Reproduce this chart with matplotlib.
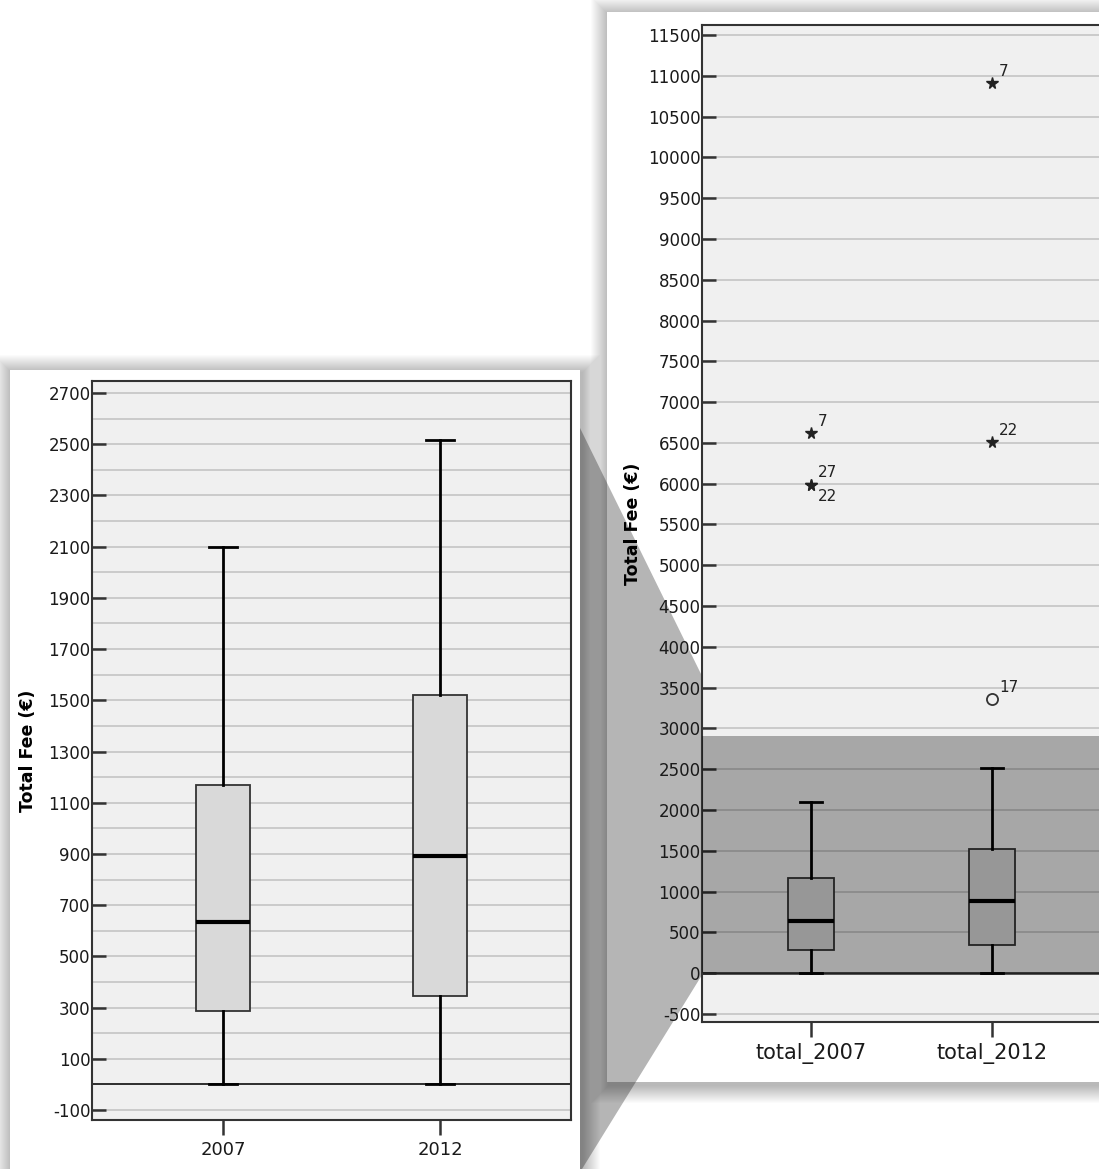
import numpy as np
import matplotlib
matplotlib.use('Agg')
import matplotlib.pyplot as plt
from matplotlib.patches import Rectangle, Polygon

plt.rcParams['axes.unicode_minus'] = False

W, H = 1099, 1169

# data
cats_left = ['2007', '2012']
cats_right = ['total_2007', 'total_2012']
whis_lo = [0, 0]
q1 = [285, 347]
med = [636, 891]
q3 = [1169, 1520]
whis_hi = [2100, 2515]

# extreme outliers (stars) and mild outliers (circles)
star_x = [1, 1, 1, 2, 2]
star_y = [6620, 5990, 5990, 10910, 6515]
star_lab = ['7', '27', '22', '7', '22']
star_side = ['above', 'above', 'below', 'above', 'above']
circ_x = [2]
circ_y = [3365]
circ_lab = ['17']


def fx(x):
    return x / W


def fy(y):
    return 1 - y / H


def rect(x0, y0, x1, y1, **kw):
    return Rectangle((fx(x0), fy(y1)), fx(x1) - fx(x0), fy(y0) - fy(y1),
                     transform=fig.transFigure, **kw)


def shadow(x0, y0, x1, y1, n=18):
    # soft drop shadow, a bit heavier towards the bottom right
    for k in range(n, 0, -1):
        fig.add_artist(rect(x0 - k + 2, y0 - k + 3, x1 + k + 2, y1 + k + 3,
                            facecolor='black', edgecolor='none',
                            alpha=0.014, zorder=-3))


fig = plt.figure(figsize=(W / 100, H / 100), dpi=100)
fig.patch.set_facecolor('white')

# cards
shadow(10, 370, 580, 1190)
fig.add_artist(rect(10, 370, 580, 1190, facecolor='white', edgecolor='none', zorder=-2.5))
shadow(607, 12, 1120, 1082)
fig.add_artist(rect(607, 12, 1120, 1082, facecolor='white', edgecolor='none', zorder=-2))

# connecting wedge
wedge = Polygon([(fx(580), fy(428)), (fx(702), fy(676)), (fx(702), fy(975)),
                 (fx(582), fy(1169)), (fx(580), fy(1169))],
                closed=True, transform=fig.transFigure, facecolor='black',
                edgecolor='none', alpha=0.29, zorder=-1)
fig.add_artist(wedge)


def stats():
    return [dict(whislo=whis_lo[i], q1=q1[i], med=med[i], q3=q3[i],
                 whishi=whis_hi[i], fliers=[]) for i in range(2)]


def style(ax, xlab_size):
    ax.set_facecolor('#f0f0f0')
    ax.bxp(stats(), positions=[1, 2], widths=0.25, capwidths=0.125,
           patch_artist=True, showfliers=False,
           boxprops=dict(facecolor='#d9d9d9', edgecolor='#333333', linewidth=1.3),
           medianprops=dict(color='black', linewidth=3),
           whiskerprops=dict(color='black', linewidth=2),
           capprops=dict(color='black', linewidth=2))
    ax.grid(True, which='both', axis='y', color='#c8c8c8', linewidth=1.3, zorder=0)
    ax.set_axisbelow(True)
    for s in ax.spines.values():
        s.set_color('#333333')
        s.set_linewidth(1.5)
    ax.tick_params(axis='y', which='major', direction='in', length=10, width=1.8,
                   color='#333333', labelsize=12, pad=1, labelcolor='#1a1a1a')
    ax.tick_params(axis='y', which='minor', length=0)
    ax.tick_params(axis='x', direction='out', length=11, width=1.8,
                   color='#333333', labelsize=xlab_size, pad=4, labelcolor='#1a1a1a')
    ax.set_ylabel('Total Fee (€)', fontsize=12.5, fontweight='bold', labelpad=8)


# left panel
axl = fig.add_axes([fx(92), fy(1120), fx(571) - fx(92), fy(381) - fy(1120)])
style(axl, 13)
axl.set_xlim(0.396, 2.604)
axl.set_ylim(-139, 2747)
axl.set_yticks(np.arange(-100, 2701, 200))
axl.set_yticks(np.arange(0, 2700, 200), minor=True)
axl.set_xticks([1, 2])
axl.set_xticklabels(cats_left)
axl.axhline(0, color='#222222', linewidth=1.3, zorder=1)

# right panel
axr = fig.add_axes([fx(702), fy(1022), fx(1101) - fx(702), fy(25) - fy(1022)])
style(axr, 15)
axr.set_xlim(0.398, 2.602)
axr.set_ylim(-598, 11622)
axr.set_yticks(np.arange(-500, 11501, 500))
axr.set_xticks([1, 2])
axr.set_xticklabels(cats_right)
axr.axhline(0, color='#222222', linewidth=1.8, zorder=1)
axr.yaxis.labelpad = 4

axr.plot(star_x, star_y, linestyle='none', marker='*', markersize=8.5,
         color='#222222', zorder=4)
axr.plot(circ_x, circ_y, linestyle='none', marker='o', markersize=8,
         markerfacecolor='none', markeredgecolor='#333333', markeredgewidth=1.3, zorder=4)
for x, y, t, s in zip(star_x + circ_x, star_y + circ_y, star_lab + circ_lab,
                      star_side + ['above']):
    if s == 'above':
        axr.annotate(t, (x, y), xytext=(5, 3), textcoords='offset points',
                     ha='left', va='bottom', fontsize=11, color='#222222')
    else:
        axr.annotate(t, (x, y), xytext=(5, -3), textcoords='offset points',
                     ha='left', va='top', fontsize=11, color='#222222')

# zoom band over right panel
fig.add_artist(rect(702, 736, 1099, 973, facecolor='black', edgecolor='none',
                    alpha=0.3, zorder=1))

fig.savefig('out.png', dpi=100)
